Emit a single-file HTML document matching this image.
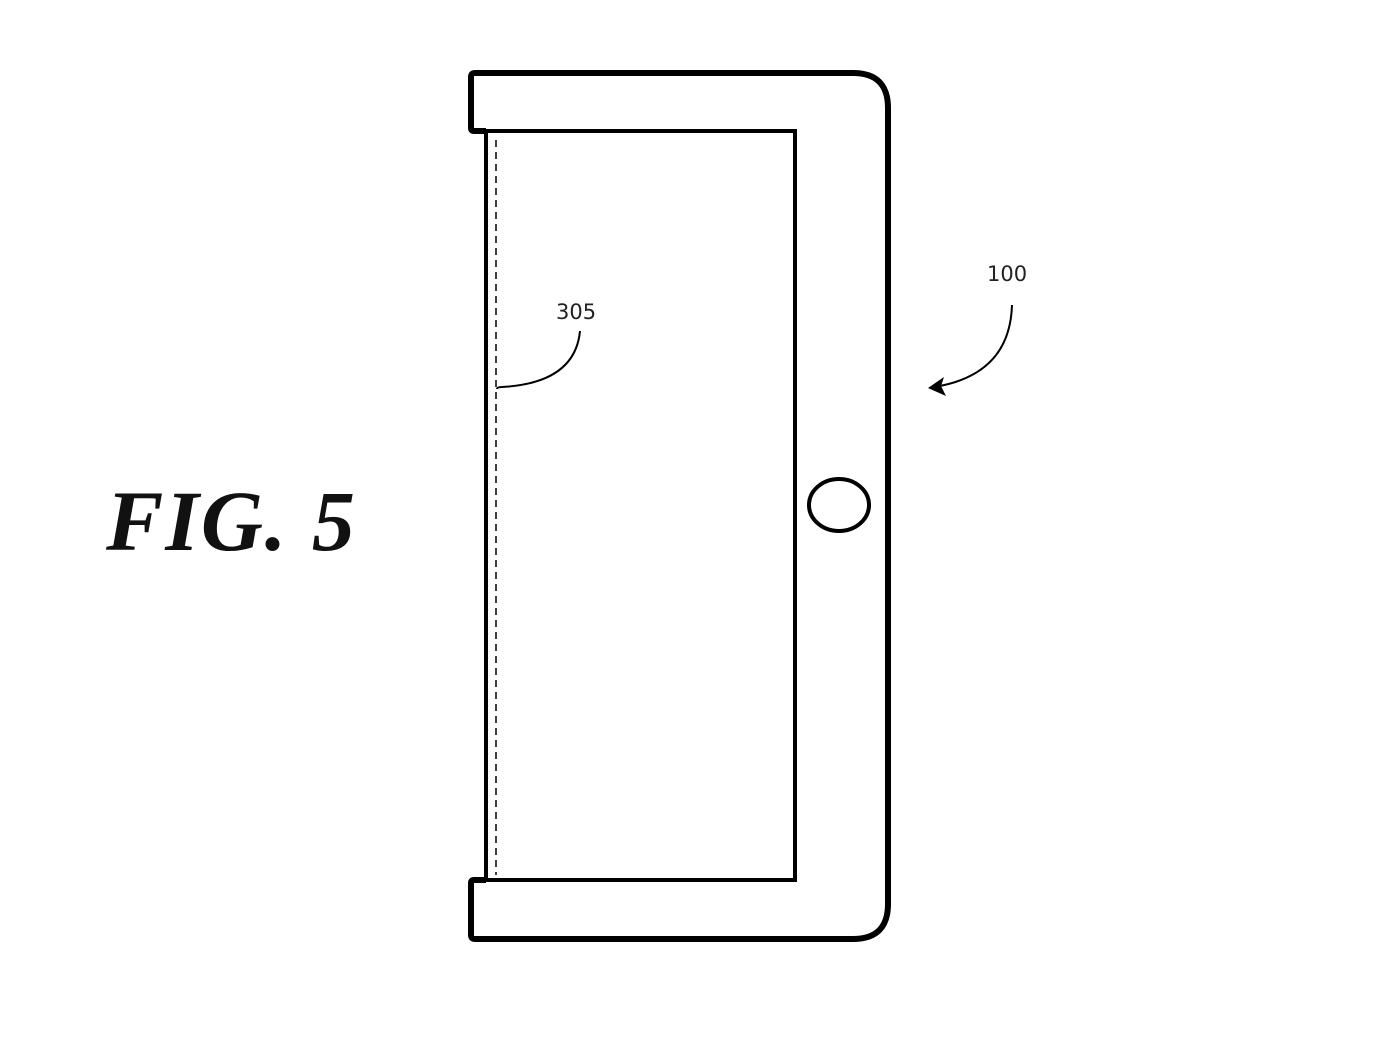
<!DOCTYPE html>
<html><head><style>html,body{margin:0;padding:0;background:#fff;}</style></head>
<body>
<svg width="1376" height="1032" viewBox="0 0 1376 1032" xmlns="http://www.w3.org/2000/svg">
<rect width="1376" height="1032" fill="#fff"/>
<path d="M486 131 L474 131 Q471 131 471 128 L471 77 Q471 73 475 73 L853 73 Q888 73 888 108 L888 904 Q888 939 853 939 L475 939 Q471 939 471 935 L471 883 Q471 880 474 880 L486 880" fill="none" stroke="#000" stroke-width="6" stroke-linejoin="round"/>
<rect x="486" y="131" width="309" height="749" fill="none" stroke="#000" stroke-width="4"/>
<line x1="496" y1="140" x2="496" y2="875" stroke="#000" stroke-width="1.5" stroke-dasharray="7,5"/>
<ellipse cx="839" cy="505" rx="30" ry="26" fill="none" stroke="#000" stroke-width="4"/>
<path d="M497 389 Q497 387 502 387 Q575 383 580 331" fill="none" stroke="#000" stroke-width="2"/>
<text x="556" y="319" font-family="'DejaVu Sans','Liberation Sans',sans-serif" font-size="21" fill="#222">305</text>
<text x="987" y="281" font-family="'DejaVu Sans','Liberation Sans',sans-serif" font-size="21" fill="#222">100</text>
<path d="M1012 305 Q1010 372 940 386" fill="none" stroke="#000" stroke-width="2"/>
<path d="M928 388 L944 377 L941 386 L946 396 Z" fill="#000"/>
<text x="106" y="550" font-family="'Liberation Serif',serif" font-size="86" font-weight="bold" font-style="italic" letter-spacing="2" fill="#111">FIG. 5</text>
</svg>
</body></html>
